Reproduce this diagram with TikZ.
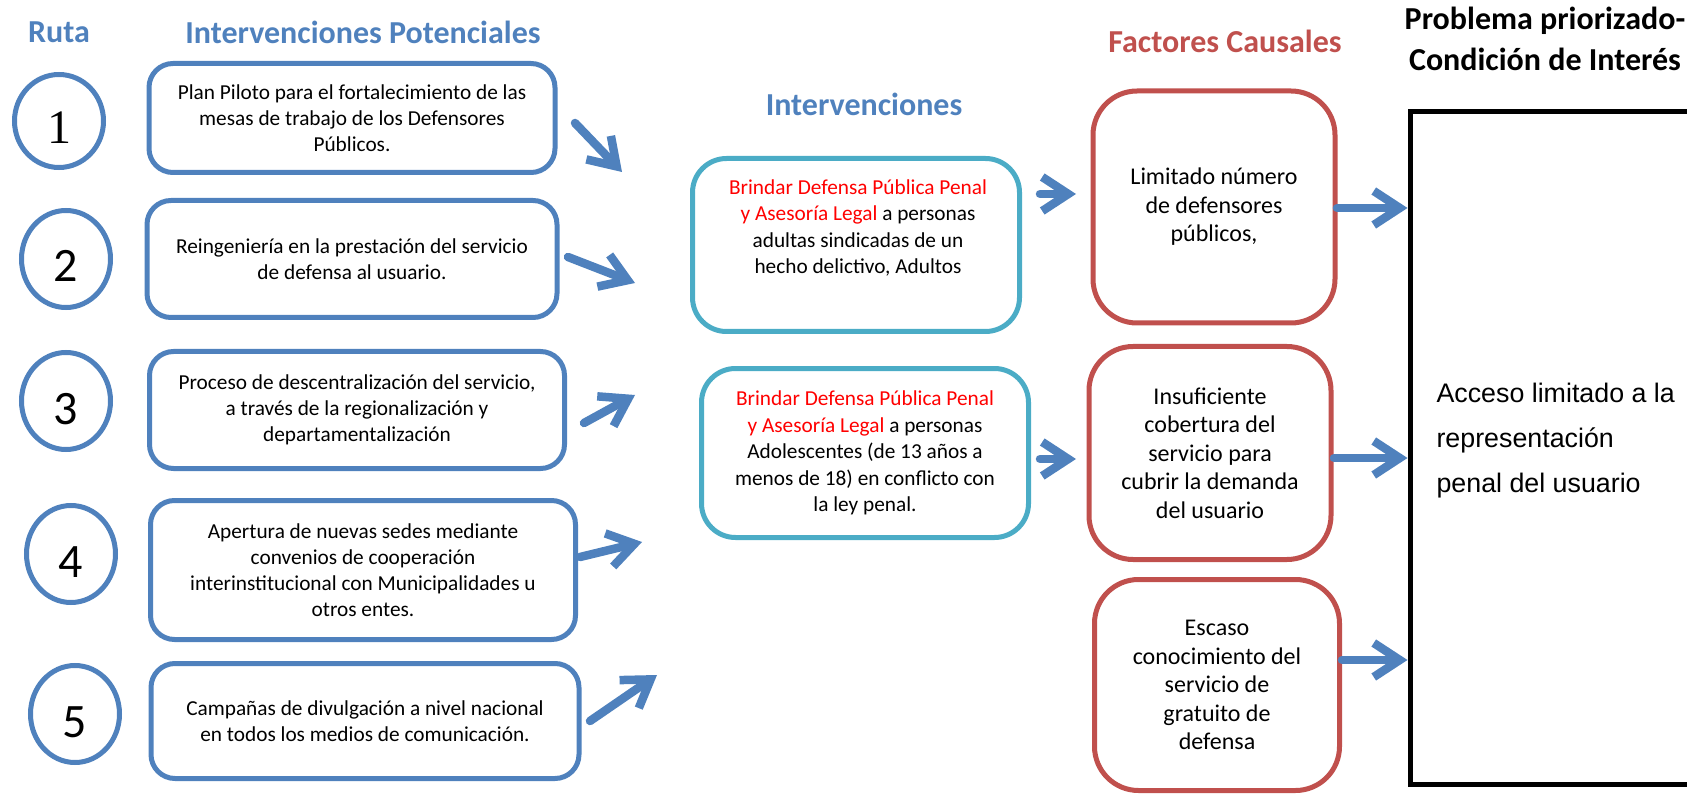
\documentclass[tikz,border=0pt]{standalone}
\usepackage{fontspec}
\setmainfont{Carlito}
\newfontfamily\arialfont{Liberation Sans}
\newfontfamily\timesfont{Liberation Serif}
\usepackage{tikz}
\usetikzlibrary{arrows.meta}
\usetikzlibrary{shapes.geometric}
\definecolor{azul}{HTML}{4F81BD}
\definecolor{celeste}{HTML}{4BACC6}
\definecolor{rojo}{HTML}{C0504D}

\begin{document}
\begin{tikzpicture}[x=1pt,y=-1pt,
 titulo/.style={font=\fontsize{32}{41}\selectfont\bfseries,align=center},
 ruta/.style={draw=azul,line width=5pt,ellipse,inner sep=0pt,minimum width=89pt,minimum height=97pt,
   text height=46pt,text depth=0pt,font=\fontsize{48}{48}\selectfont},
 pot/.style={draw=azul,line width=5pt,rounded corners=24pt,align=center,font=\fontsize{21.3}{25.8}\selectfont},
 inter/.style={draw=celeste,line width=5pt,rounded corners=34pt,minimum width=327pt},
 txt/.style={align=center,font=\fontsize{21.3}{26.4}\selectfont},
 causa/.style={draw=rojo,line width=5pt,rounded corners=44pt,align=center,font=\fontsize{24}{28.5}\selectfont},
 flecha/.style={azul,line width=8.5pt,line cap=round,-{Straight Barb[length=26pt,width=34pt]}}]
\useasboundingbox (0,0) rectangle (1687,794);
\clip (0,0) rectangle (1687,794);

% titulos
\node[titulo,azul] (tr) at (59,32) {Ruta};
\node[titulo,azul] (tp) at (363,32) {Intervenciones Potenciales};
\node[titulo,azul] (ti) at (864,104) {Intervenciones};
\node[titulo,rojo] (tf) at (1225,41) {Factores Causales};
\node[titulo] (tc) at (1545,39) {Problema priorizado-\\Condición de Interés};

% rutas
\node[ruta,minimum height=93pt] (r1) at (59,121) {\timesfont 1};
\node[ruta] (r2) at (66,259) {2};
\node[ruta] (r3) at (66,401) {3};
\node[ruta] (r4) at (71,554) {4};
\node[ruta] (r5) at (75,714) {5};

% intervenciones potenciales
\node[pot,minimum width=406pt,minimum height=109pt] (p1) at (352,118)
 {Plan Piloto para el fortalecimiento de las\\mesas de trabajo de los Defensores\\Públicos.};
\node[pot,minimum width=410pt,minimum height=117pt] (p2) at (352,259)
 {Reingeniería en la prestación del servicio\\de defensa al usuario.};
\node[pot,minimum width=415pt,minimum height=117pt] (p3) at (357,410)
 {Proceso de descentralización del servicio,\\a través de la regionalización y\\departamentalización};
\node[pot,minimum width=425pt,minimum height=139pt] (p4) at (363,570)
 {Apertura de nuevas sedes mediante\\convenios de cooperación\\interinstitucional con Municipalidades u\\otros entes.};
\node[pot,minimum width=428pt,minimum height=115pt] (p5) at (365,721)
 {Campañas de divulgación a nivel nacional\\en todos los medios de comunicación.};

\coordinate (a1) at (575,123); \coordinate (b1) at (622,172);
\coordinate (a2) at (568,257); \coordinate (b2) at (635,283);
\coordinate (a3) at (584,423); \coordinate (b3) at (635,395);
\coordinate (a4) at (580,557); \coordinate (b4) at (642,542);
\coordinate (a5) at (590,721); \coordinate (b5) at (657,675);
\draw[flecha] (a1) -- (b1);
\draw[flecha] (a2) -- (b2);
\draw[flecha] (a3) -- (b3);
\draw[flecha] (a4) -- (b4);
\draw[flecha] (a5) -- (b5);

% intervenciones
\node[inter,minimum height=173pt] (i1) at (856,245) {};
\node[txt] (t1) at (858,228) {\textcolor{red}{Brindar Defensa Pública Penal}\\\textcolor{red}{y Asesoría Legal} a personas\\adultas sindicadas de un\\hecho delictivo, Adultos};
\node[inter,minimum height=169pt,txt] (i2) at (865,453) {\textcolor{red}{Brindar Defensa Pública Penal}\\\textcolor{red}{y Asesoría Legal} a personas\\Adolescentes (de 13 años a\\menos de 18) en conflicto con\\la ley penal.};

\coordinate (d1) at (1040,194); \coordinate (e1) at (1076,194);
\coordinate (d2) at (1040,459); \coordinate (e2) at (1076,459);
\draw[flecha] (d1) -- (e1);
\draw[flecha] (d2) -- (e2);

% factores causales
\node[causa,minimum width=242pt,minimum height=232pt] (c1) at (1214,207) {Limitado número\\de defensores\\públicos,};
\node[causa,minimum width=242pt,minimum height=213pt] (c2) at (1210,453) {Insuficiente\\cobertura del\\servicio para\\cubrir la demanda\\del usuario};
\node[causa,minimum width=245pt,minimum height=211pt] (c3) at (1217,685) {Escaso\\conocimiento del\\servicio de\\gratuito de\\defensa};

% problema
\node[draw,line width=5pt,minimum width=290pt,minimum height=672pt] (pb) at (1555,448) {};
\node[align=left,anchor=west,font=\arialfont\fontsize{26.8}{45}\selectfont] (tx) at (1433,441) {Acceso limitado a la\\representación\\penal del usuario};

\coordinate (k1) at (1337,208);
\coordinate (k2) at (1334,458);
\coordinate (k3) at (1342,660);
\draw[flecha] (k1) -- (k1 -| pb.west);
\draw[flecha] (k2) -- (k2 -| pb.west);
\draw[flecha] (k3) -- (k3 -| pb.west);

\end{tikzpicture}
\end{document}
